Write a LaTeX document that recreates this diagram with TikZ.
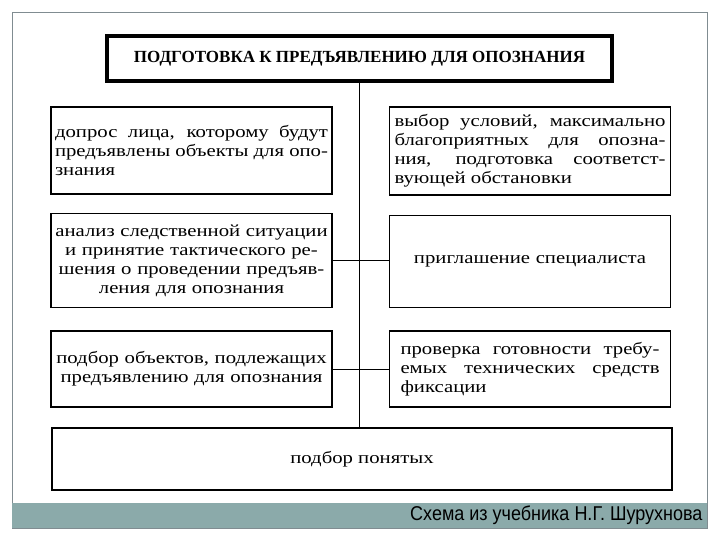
\documentclass[tikz,border=0pt]{standalone}
\usepackage{fontspec}
\setmainfont{Liberation Serif}[FakeStretch=1.22]
\newfontfamily\zagfont{Liberation Serif}
\newfontfamily\podpisfont{Liberation Sans}[FakeStretch=0.9]
\usetikzlibrary{positioning}
\definecolor{ramka}{RGB}{128,140,145}
\definecolor{polosa}{RGB}{139,170,170}
\hyphenpenalty=10000

\begin{document}
\begin{tikzpicture}[
	x=1pt, y=-1pt,
	node distance=18pt,
	blok/.style={
		rectangle,
		draw=black,
		line width=1.6pt,
		minimum width=281pt,
		inner xsep=4pt,
		font=\fontsize{17}{19}\selectfont
	},
	zag/.style={
		rectangle,
		draw=black,
		line width=4pt,
		minimum width=505pt,
		minimum height=45pt,
		font=\zagfont\bfseries\fontsize{17}{19}\selectfont
	},
	svyaz/.style={line width=0.8pt}
	]
	
	\useasboundingbox (0,0) rectangle (720,540);
	\fill[white] (0,0) rectangle (720,540);
	\draw[ramka, line width=1pt] (12.5,12.5) rectangle (707,528);
	\fill[polosa] (12,503) rectangle (707,528);
	
	\node[zag] (t) at (359.5,58.5) {ПОДГОТОВКА К ПРЕДЪЯВЛЕНИЮ ДЛЯ ОПОЗНАНИЯ};
	
	\node[blok, minimum height=87pt, text width=273pt, align=justify] (b1) at (191.5,150.5)
	{допрос лица, которому будут\linebreak предъявлены объекты для опо-\linebreak знания};
	
	\node[blok, minimum height=88pt, text width=271pt, inner xsep=5pt, align=justify] (b2) at (530,151)
	{выбор условий, максимально\linebreak благоприятных для опозна-\linebreak ния, подготовка соответст-\linebreak вующей обстановки};
	
	\node[blok, minimum height=94pt, text width=273pt, align=center, below=of b1] (b3)
	{анализ следственной ситуации\\ и принятие тактического ре-\\ шения о проведении предъяв-\\ ления для опознания};
	
	\node[blok, minimum height=92pt, text width=273pt, align=center, below=19pt of b2] (b4)
	{приглашение специалиста};
	
	\node[blok, minimum height=76pt, text width=273pt, align=center, below=22pt of b3] (b5)
	{подбор объектов, подлежащих\\ предъявлению для опознания};
	
	\node[blok, minimum height=76pt, text width=259pt, inner xsep=11pt, align=justify, below=22pt of b4] (b6)
	{проверка готовности требу-\linebreak емых технических средств\linebreak фиксации};
	
	\node[blok, minimum width=620pt, minimum height=62pt] (b7) at (362,459) {подбор понятых};
	
	\node[anchor=east, font=\podpisfont\fontsize{20}{22}\selectfont] (podpis) at (706,515)
	{Схема из учебника Н.Г. Шурухнова};
	
	\draw[svyaz] (t.south) -- (t.south |- b7.north);
	\draw[svyaz] (b3.east) -- (b3.east -| b4.west);
	\draw[svyaz] (b5.east) -- (b5.east -| b6.west);
	
\end{tikzpicture}
\end{document}
